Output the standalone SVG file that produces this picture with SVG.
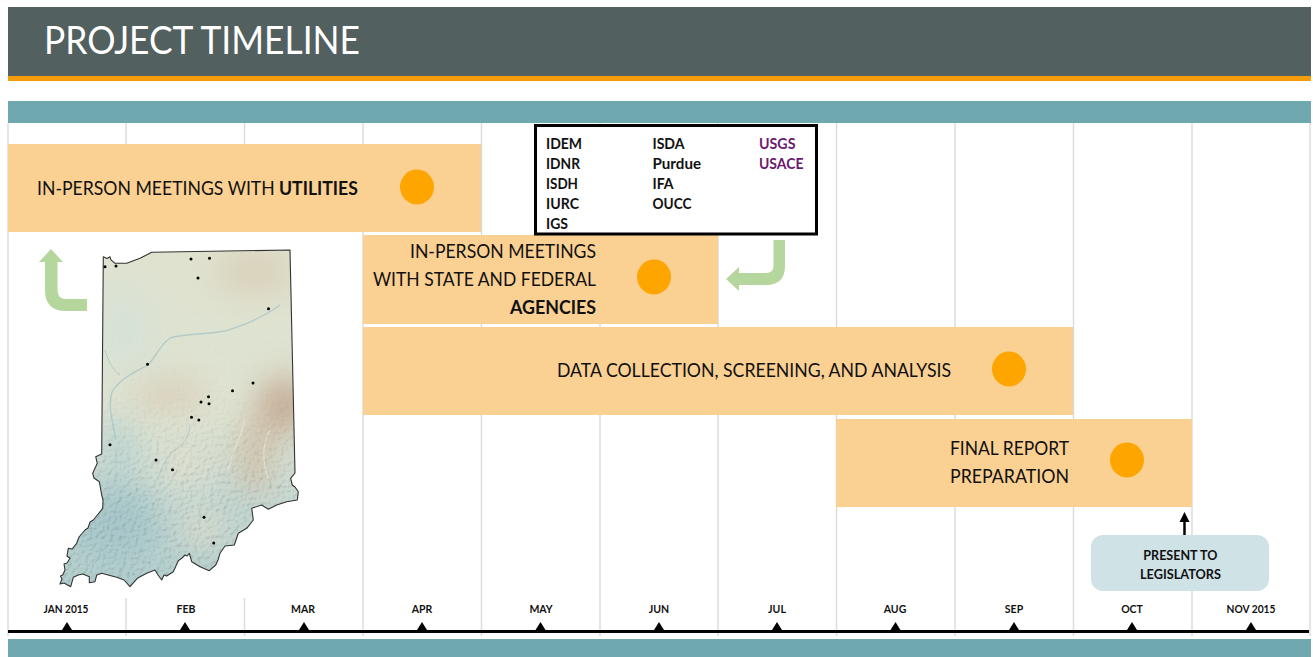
<svg xmlns="http://www.w3.org/2000/svg" width="1313" height="657" viewBox="0 0 1313 657">
<style>
text{font-family:"Lato","Carlito","Liberation Sans",sans-serif;fill:#111}
.bar{fill:#fbd093}
.dot{fill:#ffa500}
.grid{stroke:#dadada;stroke-width:1.400;fill:none}
.teal{fill:#70a8b0}
.lbl{font-size:19.500px}
.lblb{font-size:19.500px;font-weight:700}
.ag{font-size:15px;font-weight:700}
.pu{fill:#6b1a6e}
.mon{font-size:10.500px;font-weight:700;text-anchor:middle}
.tick{fill:#000}
.arrow{fill:#b5d69c}
.pin{fill:#000}
</style>
<defs>
<clipPath id="inClip"><path id="inPath" stroke-linejoin="round" d="M103.300 256.700L107 258.500L110 256.800L111 259.800L115 263.300L126.700 263.300L140 258.300L151.700 252.300L290 250L295 473L290.700 478.300L292.300 485L295 487L298.300 491.700L297.300 500L286.700 501.700L276.700 505L268.300 509.300L261.700 505L251.700 508.300L253.300 520L246.700 528.300L238.300 533.300L236 540L234.300 545L225 546L220 553.300L218 560L215.700 565L209.300 570.700L200 566.700L191.700 561.700L189.300 553.300L187 556L185 555L182 558L178.300 560.700L173.300 571.700L166.700 576L164 575L161.700 580L158 575L155 570L146.700 573.300L137.300 578.300L130 586.700L124 580L116.700 577.300L108 575L101.700 573.300L96.700 575L95 581.700L89.300 582.700L89.300 576.700L83 574L78.300 575L73.300 577.300L70.700 586.700L64 583L60 584L62 579L60.500 576L62.700 575L65 570L64 564L67 563L70 558.300L67 556L68.300 548.300L72 549L76.700 543.300L79 537L85 530L88 528L90 522L93.300 520L99 513L102.700 508.300L103 500L101.700 495L99.300 481.700L94 478L92.700 473.300L97.300 463.300L95.700 456.700L101.700 454Z"/></clipPath>
<filter id="blur" x="-30%" y="-30%" width="160%" height="160%"><feGaussianBlur stdDeviation="16"/></filter>
<filter id="soft"><feGaussianBlur stdDeviation=".5"/></filter>
<filter id="relief" x="0" y="0" width="100%" height="100%"><feTurbulence type="fractalNoise" baseFrequency="0.24" numOctaves="3" seed="11" result="n"/><feDiffuseLighting in="n" surfaceScale="1.500" diffuseConstant="1.150" lighting-color="#fff"><feDistantLight azimuth="225" elevation="58"/></feDiffuseLighting></filter>
<linearGradient id="ground" x1="0" y1="0" x2="0" y2="1"><stop offset="0" stop-color="#dfe2cf"/><stop offset=".5" stop-color="#dee3d2"/><stop offset=".78" stop-color="#c4d8d2"/><stop offset="1" stop-color="#b0cdcd"/></linearGradient>
<linearGradient id="fade" x1="0" y1="0" x2="0" y2="1"><stop offset="0" stop-color="#fff" stop-opacity="0"/><stop offset=".42" stop-color="#fff" stop-opacity=".1"/><stop offset=".68" stop-color="#fff" stop-opacity=".9"/><stop offset="1" stop-color="#fff"/></linearGradient>
<mask id="reliefMask"><rect x="55" y="245" width="245" height="345" fill="url(#fade)"/></mask>
</defs>

<g id="header">
<rect x="8" y="7" width="1303" height="69" fill="#52605f"/>
<rect x="8" y="76" width="1303" height="5" fill="#f59c0a"/>
<text x="44" y="54" style="font-size:38px;fill:#fff" textLength="316" lengthAdjust="spacingAndGlyphs">PROJECT TIMELINE</text>
</g>
<rect id="band-top" class="teal" x="8" y="101" width="1303" height="22"/>

<g id="gridlines" class="grid">
<path d="M8 123V636M126 123V636M244.500 123V636M363 123V636M481.500 123V636M600 123V636M718 123V636M836.500 123V636M955 123V636M1073.500 123V636M1192 123V636M1310 123V636"/>
</g>
<rect id="map-backing" x="9" y="232" width="353" height="366" fill="#fff"/>

<g id="bar-utilities">
<rect class="bar" x="8" y="144" width="473" height="88"/>
<text transform="translate(37 195) scale(.905 1)" class="lbl">IN-PERSON MEETINGS WITH</text>
<text transform="translate(279 195) scale(.905 1)" class="lblb">UTILITIES</text>
<ellipse class="dot" cx="417" cy="187" rx="17" ry="17.500"/>
</g>
<g id="bar-agencies">
<rect class="bar" x="363" y="235" width="355" height="89"/>
<text x="410" y="258" class="lbl" textLength="186" lengthAdjust="spacingAndGlyphs">IN-PERSON MEETINGS</text>
<text x="373" y="286" class="lbl" textLength="223" lengthAdjust="spacingAndGlyphs">WITH STATE AND FEDERAL</text>
<text x="510" y="314" class="lblb" textLength="86" lengthAdjust="spacingAndGlyphs">AGENCIES</text>
<ellipse class="dot" cx="654" cy="277" rx="17" ry="17.500"/>
</g>
<g id="bar-data">
<rect class="bar" x="363" y="327" width="710" height="88"/>
<text x="557" y="377" class="lbl" textLength="394" lengthAdjust="spacingAndGlyphs">DATA COLLECTION, SCREENING, AND ANALYSIS</text>
<ellipse class="dot" cx="1009" cy="369" rx="17" ry="17.500"/>
</g>
<g id="bar-report">
<rect class="bar" x="836" y="419" width="356" height="88"/>
<text x="950" y="455" class="lbl" textLength="119" lengthAdjust="spacingAndGlyphs">FINAL REPORT</text>
<text x="950" y="483" class="lbl" textLength="119" lengthAdjust="spacingAndGlyphs">PREPARATION</text>
<ellipse class="dot" cx="1127" cy="460" rx="17" ry="17.500"/>
</g>

<g id="agency-box">
<rect x="535.500" y="125.500" width="281" height="108.500" fill="#fff" stroke="#000" stroke-width="3"/>
<text class="ag" x="546" y="148.500" textLength="36" lengthAdjust="spacingAndGlyphs">IDEM</text>
<text class="ag" x="546" y="168.500" textLength="34" lengthAdjust="spacingAndGlyphs">IDNR</text>
<text class="ag" x="546" y="188.500" textLength="32" lengthAdjust="spacingAndGlyphs">ISDH</text>
<text class="ag" x="546" y="208.500" textLength="33" lengthAdjust="spacingAndGlyphs">IURC</text>
<text class="ag" x="546" y="228.500" textLength="22" lengthAdjust="spacingAndGlyphs">IGS</text>
<text class="ag" x="652.500" y="148.500" textLength="32" lengthAdjust="spacingAndGlyphs">ISDA</text>
<text class="ag" x="652.500" y="168.500" textLength="48.500" lengthAdjust="spacingAndGlyphs">Purdue</text>
<text class="ag" x="652.500" y="188.500" textLength="21" lengthAdjust="spacingAndGlyphs">IFA</text>
<text class="ag" x="652.500" y="208.500" textLength="39" lengthAdjust="spacingAndGlyphs">OUCC</text>
<text class="ag pu" x="759" y="148.500" textLength="36.500" lengthAdjust="spacingAndGlyphs">USGS</text>
<text class="ag pu" x="759" y="168.500" textLength="44.500" lengthAdjust="spacingAndGlyphs">USACE</text>
</g>

<g id="indiana-map">
<g clip-path="url(#inClip)">
<rect x="55" y="245" width="245" height="345" fill="url(#ground)"/>
<g filter="url(#blur)">
<ellipse cx="285" cy="405" rx="26" ry="28" fill="#c4ab94"/>
<ellipse cx="255" cy="455" rx="16" ry="40" fill="#d0c0a9"/>
<ellipse cx="170" cy="395" rx="38" ry="14" fill="#d9cdb7"/>
<ellipse cx="255" cy="272" rx="40" ry="20" fill="#d9cfb8"/>
<ellipse cx="125" cy="330" rx="24" ry="45" fill="#d6e2d8"/>
<ellipse cx="118" cy="450" rx="18" ry="34" fill="#bcd5d2"/>
<ellipse cx="115" cy="525" rx="46" ry="42" fill="#a9c8ca"/>
<ellipse cx="230" cy="510" rx="14" ry="18" fill="#bad2d0"/>
<ellipse cx="205" cy="530" rx="20" ry="14" fill="#e3decb"/>
<ellipse cx="185" cy="465" rx="18" ry="18" fill="#e4e0ce"/>
</g>
<g filter="url(#soft)" fill="none" stroke="#a6c4c6" opacity=".75">
<path stroke-width="1.400" d="M280 305C262 318 245 325 225 331C205 335 185 333 170 338C160 345 155 358 148 365C135 372 118 380 112 392C108 405 112 420 116 440"/>
<path stroke-width="1" d="M190 425C190 435 183 447 172 452C165 460 160 470 158 480M120 375C112 370 108 360 105 350"/>
<path stroke-width="1" stroke="#edeee0" d="M270 430C262 445 262 460 268 478M245 420C240 440 232 452 228 470"/>
</g>
<rect x="55" y="245" width="245" height="345" filter="url(#relief)" mask="url(#reliefMask)" opacity=".6" style="mix-blend-mode:multiply"/>
</g>
<use href="#inPath" fill="none" stroke="#333" stroke-width="1.100"/>
<g class="pin">
<circle cx="105" cy="266.700" r="1.500"/><circle cx="116" cy="266" r="1.500"/><circle cx="191" cy="259" r="1.500"/><circle cx="209.500" cy="258.300" r="1.500"/><circle cx="198" cy="278" r="1.500"/><circle cx="268.500" cy="308.700" r="1.500"/><circle cx="147.500" cy="364.300" r="1.500"/><circle cx="253" cy="383" r="1.500"/><circle cx="232.500" cy="390.700" r="1.500"/><circle cx="208.500" cy="396.700" r="1.500"/><circle cx="201" cy="402" r="1.500"/><circle cx="209" cy="403.700" r="1.500"/><circle cx="191.500" cy="417.300" r="1.500"/><circle cx="198.800" cy="420" r="1.500"/><circle cx="110" cy="444.700" r="1.500"/><circle cx="156" cy="460" r="1.500"/><circle cx="172.500" cy="469.700" r="1.500"/><circle cx="204" cy="517.300" r="1.500"/><circle cx="213.700" cy="543" r="1.500"/>
</g>
</g>

<g id="connectors">
<path class="arrow" d="M39 262L51 249L63 262H57.500V290Q57.500 299 66 299H87V311H66Q45 311 45 290V262Z"/>
<path class="arrow" d="M785 240V266Q785 285 766 285H739V291L726 279L739 267V273H766Q773.500 273 773.500 266V240Z"/>
<path d="M1184.500 535V518" fill="none" stroke="#000" stroke-width="2.500"/>
<path class="tick" d="M1184.500 512L1189.500 522H1179.500Z"/>
</g>

<g id="present-box">
<rect x="1091" y="535" width="178" height="56" rx="12" fill="#cfe2e6"/>
<text x="1143.300" y="559.500" style="font-size:13px;font-weight:700" textLength="74" lengthAdjust="spacingAndGlyphs">PRESENT TO</text>
<text x="1140" y="578.500" style="font-size:13px;font-weight:700" textLength="81" lengthAdjust="spacingAndGlyphs">LEGISLATORS</text>
</g>

<g id="axis">
<rect x="8" y="630" width="1301" height="3" fill="#000"/>
<path class="tick" d="M62 630L67 622L72 630ZM180 630L185 622L190 630ZM299 630L304 622L309 630ZM417 630L422 622L427 630ZM535.500 630L540.500 622L545.500 630ZM654 630L659 622L664 630ZM772 630L777 622L782 630ZM890.500 630L895.500 622L900.500 630ZM1009 630L1014 622L1019 630ZM1127 630L1132 622L1137 630ZM1246 630L1251 622L1256 630Z"/>
<text class="mon" x="66" y="612.500" textLength="45" lengthAdjust="spacingAndGlyphs">JAN 2015</text>
<text class="mon" x="186" y="612.500">FEB</text>
<text class="mon" x="303" y="612.500">MAR</text>
<text class="mon" x="422" y="612.500">APR</text>
<text class="mon" x="541" y="612.500">MAY</text>
<text class="mon" x="659" y="612.500">JUN</text>
<text class="mon" x="777" y="612.500">JUL</text>
<text class="mon" x="895" y="612.500">AUG</text>
<text class="mon" x="1014" y="612.500">SEP</text>
<text class="mon" x="1132" y="612.500">OCT</text>
<text class="mon" x="1251" y="612.500" textLength="49" lengthAdjust="spacingAndGlyphs">NOV 2015</text>
</g>
<rect id="band-bottom" class="teal" x="8" y="639" width="1303" height="18"/>
</svg>
